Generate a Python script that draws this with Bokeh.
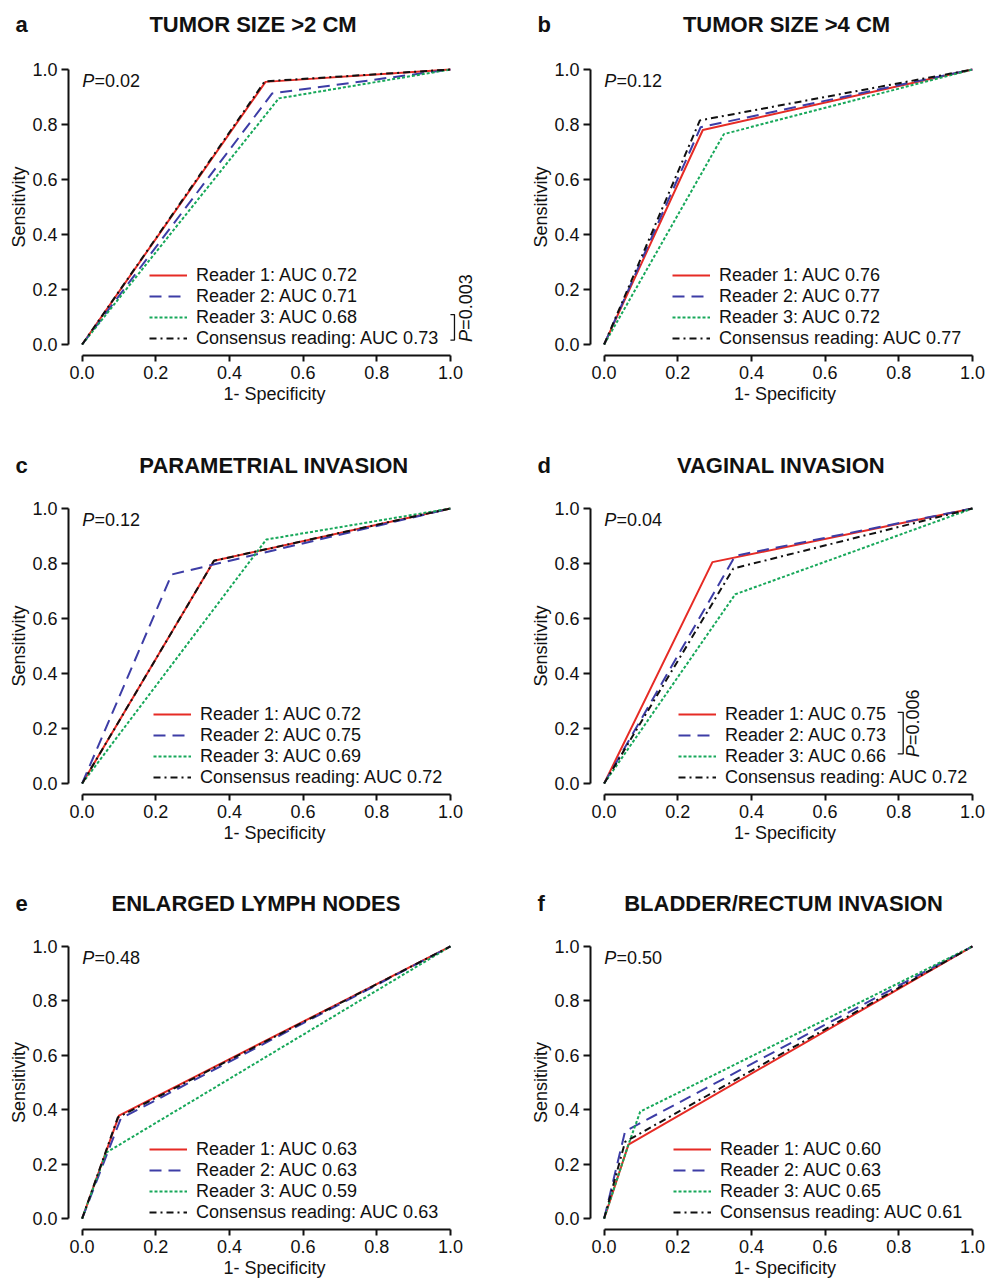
from bokeh.plotting import figure
from bokeh.models import Range1d, FixedTicker, PrintfTickFormatter, Legend, LegendItem
from bokeh.layouts import column, row
from bokeh.embed import file_html
from bokeh.resources import INLINE
from bokeh.core.properties import value

# ---------------- data ----------------
panel_letters = ["a", "b", "c", "d", "e", "f"]
panel_titles = ["TUMOR SIZE >2 CM", "TUMOR SIZE >4 CM", "PARAMETRIAL INVASION",
                "VAGINAL INVASION", "ENLARGED LYMPH NODES", "BLADDER/RECTUM INVASION"]
overall_p = ["0.02", "0.12", "0.12", "0.04", "0.48", "0.50"]
reader_names = ["Reader 1", "Reader 2", "Reader 3", "Consensus reading"]

# ROC points: 1-specificity (fpr) and sensitivity (sens), one list per panel a-f
reader1_fpr = [[0, 0.498, 1], [0, 0.268, 1], [0, 0.358, 1], [0, 0.294, 1], [0, 0.100, 1], [0, 0.066, 1]]
reader1_sens = [[0, 0.955, 1], [0, 0.780, 1], [0, 0.810, 1], [0, 0.805, 1], [0, 0.378, 1], [0, 0.272, 1]]
reader2_fpr = [[0, 0.516, 1], [0, 0.262, 1], [0, 0.243, 1], [0, 0.356, 1], [0, 0.105, 1], [0, 0.057, 1]]
reader2_sens = [[0, 0.913, 1], [0, 0.790, 1], [0, 0.760, 1], [0, 0.828, 1], [0, 0.368, 1], [0, 0.321, 1]]
reader3_fpr = [[0, 0.534, 1], [0, 0.325, 1], [0, 0.500, 1], [0, 0.356, 1], [0, 0.065, 1], [0, 0.066, 0.098, 1]]
reader3_sens = [[0, 0.895, 1], [0, 0.765, 1], [0, 0.887, 1], [0, 0.688, 1], [0, 0.242, 1], [0, 0.272, 0.393, 1]]
consensus_fpr = [[0, 0.496, 1], [0, 0.260, 1], [0, 0.358, 1], [0, 0.351, 1], [0, 0.097, 1], [0, 0.057, 1]]
consensus_sens = [[0, 0.957, 1], [0, 0.815, 1], [0, 0.810, 1], [0, 0.782, 1], [0, 0.372, 1], [0, 0.282, 1]]

auc_reader1 = ["0.72", "0.76", "0.72", "0.75", "0.63", "0.60"]
auc_reader2 = ["0.71", "0.77", "0.75", "0.73", "0.63", "0.63"]
auc_reader3 = ["0.68", "0.72", "0.69", "0.66", "0.59", "0.65"]
auc_consensus = ["0.73", "0.77", "0.72", "0.72", "0.63", "0.61"]

# pairwise comparison brackets: panel index -> P value
pair_p = {0: "0.003", 3: "0.006"}

tick_values = [0.0, 0.2, 0.4, 0.6, 0.8, 1.0]

# ---------------- style ----------------
FONT = "Liberation Sans"
RED = "#e62b25"
BLUE = "#3d3da6"
GREEN = "#17a85a"
BLACK = "#111111"
PX_X = 368.3   # pixels per unit on x
PX_Y = 275.0   # pixels per unit on y
X0 = -0.037
Y0 = -0.04
FRAME_H = 297
COL_W = [522, 463]
FRAME_W = [412, 389]
LEFT_B = 68
ROW_BOTTOM = [92, 91, 48]
HEADER_H = [58, 50, 50]
HEADER_MID = [33.8, 32.5, 32.2]   # vertical centre of header text, px from header bottom

title_cx = [184.5, 196, 205.5, 190.5, 187.5, 193]
legend_x = [81, 82, 85, 88, 81, 83]
# bracket geometry (data units): x_tick, x_line, y_top, y_bottom, text_x, text_y
bracket_geo = {0: (1.0, 1.011, 0.109, 0.016, 1.041, 0.009),
               3: (0.797, 0.812, 0.259, 0.108, 0.840, 0.095)}


def make_header(r):
    h = HEADER_H[r]
    w = sum(COL_W)
    hp = figure(width=w, height=h, x_range=Range1d(0, w), y_range=Range1d(0, h),
                x_axis_type=None, y_axis_type=None, min_border=0,
                output_backend="svg", toolbar_location=None, tools="")
    hp.title.visible = False
    hp.outline_line_color = None
    hp.grid.visible = False
    for c in range(2):
        i = 2 * r + c
        axis_x = LEFT_B + (COL_W[0] if c == 1 else 0)
        hp.text(x=[axis_x - 53], y=[HEADER_MID[r]], text=[panel_letters[i]], text_font=value(FONT),
                text_font_style="bold", text_font_size="22px", text_align="left",
                text_baseline="middle", text_color=BLACK)
        hp.text(x=[axis_x + title_cx[i]], y=[HEADER_MID[r]], text=[panel_titles[i]],
                text_font=value(FONT), text_font_style="bold", text_font_size="22px",
                text_align="center", text_baseline="middle", text_color=BLACK)
    return hp


def make_panel(i):
    col = i % 2
    rw = i // 2
    fw = FRAME_W[col]
    rb = COL_W[col] - LEFT_B - fw
    bb = ROW_BOTTOM[rw]
    p = figure(width=COL_W[col], height=FRAME_H + bb,
               min_border_left=LEFT_B, min_border_right=rb, min_border_top=0,
               min_border_bottom=bb,
               x_range=Range1d(X0, X0 + fw / PX_X), y_range=Range1d(Y0, Y0 + FRAME_H / PX_Y),
               output_backend="svg", toolbar_location=None, tools="")
    p.title.visible = False
    p.outline_line_color = None
    p.grid.visible = False
    p.background_fill_color = "white"
    p.border_fill_color = "white"

    for ax in (p.xaxis[0], p.yaxis[0]):
        ax.ticker = FixedTicker(ticks=tick_values)
        ax.formatter = PrintfTickFormatter(format="%.1f")
        ax.bounds = (0, 1)
        ax.axis_line_width = 2
        ax.axis_line_color = BLACK
        ax.major_tick_line_width = 2
        ax.major_tick_line_color = BLACK
        ax.major_tick_in = 0
        ax.minor_tick_line_color = None
        ax.major_label_text_font = FONT
        ax.major_label_text_font_size = "18px"
        ax.major_label_text_color = BLACK
        ax.axis_label_text_font = FONT
        ax.axis_label_text_font_size = "18px"
        ax.axis_label_text_font_style = "normal"
        ax.axis_label_text_color = BLACK
    xa = p.xaxis[0]
    xa.axis_label = "1- Specificity"
    xa.major_tick_out = 6
    xa.major_label_standoff = 4
    xa.axis_label_standoff = 2
    ya = p.yaxis[0]
    ya.axis_label = "Sensitivity"
    ya.major_tick_out = 7
    ya.major_label_standoff = 4
    ya.axis_label_standoff = 0

    r1 = p.line(reader1_fpr[i], reader1_sens[i], line_color=RED, line_width=2)
    r2 = p.line(reader2_fpr[i], reader2_sens[i], line_color=BLUE, line_width=2, line_dash="12 7")
    r3 = p.line(reader3_fpr[i], reader3_sens[i], line_color=GREEN, line_width=2, line_dash="3 2")
    r4 = p.line(consensus_fpr[i], consensus_sens[i], line_color=BLACK, line_width=2, line_dash="7 4 2 4")

    aucs = [auc_reader1[i], auc_reader2[i], auc_reader3[i], auc_consensus[i]]
    items = [LegendItem(label=f"{n}: AUC {a}", renderers=[r])
             for n, a, r in zip(reader_names, aucs, [r1, r2, r3, r4])]
    leg = Legend(items=items, location=(legend_x[i], 6.5), orientation="vertical",
                 glyph_width=38, glyph_height=20, label_height=20, spacing=-2,
                 label_standoff=9, padding=0, margin=0, border_line_color=None,
                 background_fill_alpha=0, label_text_font=FONT, label_text_font_size="18px",
                 label_text_color=BLACK, label_text_baseline="middle")
    p.add_layout(leg)

    # overall P value
    p.text(x=[0.0], y=[0.957], text=["P"], text_font=value(FONT), text_font_style="italic",
           text_font_size="18px", text_baseline="middle", text_color=BLACK)
    p.text(x=[12.3 / PX_X], y=[0.957], text=["=" + overall_p[i]], text_font=value(FONT),
           text_font_size="18px", text_baseline="middle", text_color=BLACK)

    if i in pair_p:
        xt, xl, yt, yb, tx, ty = bracket_geo[i]
        p.line([xt, xl, xl, xt], [yt, yt, yb, yb], line_color=BLACK, line_width=1.3)
        p.text(x=[tx], y=[ty], text=["P"], angle=1.5708, text_font=value(FONT),
               text_font_style="italic", text_font_size="18px", text_align="left",
               text_baseline="middle", text_color=BLACK)
        p.text(x=[tx], y=[ty + 12.3 / PX_Y], text=["=" + pair_p[i]], angle=1.5708,
               text_font=value(FONT), text_font_size="18px", text_align="left",
               text_baseline="middle", text_color=BLACK)
    return p


panels = [make_panel(i) for i in range(6)]
layout = column(make_header(0), row(panels[0], panels[1]),
                make_header(1), row(panels[2], panels[3]),
                make_header(2), row(panels[4], panels[5]))

open("out.html", "w").write(file_html(layout, INLINE))
